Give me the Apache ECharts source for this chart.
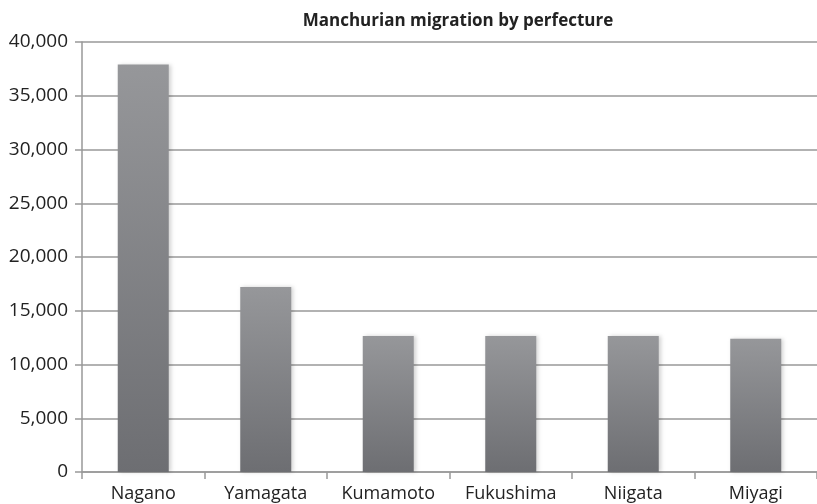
<!DOCTYPE html>
<html>
<head>
<meta charset="utf-8">
<script src="https://cdn.jsdelivr.net/npm/echarts@6/dist/echarts.min.js"></script>
<style>
  html, body { margin: 0; padding: 0; background: #fff; }
  #main { width: 817px; height: 504px; }
</style>
</head>
<body>
<div id="main"></div>
<script>
var prefectures = ['Nagano', 'Yamagata', 'Kumamoto', 'Fukushima', 'Niigata', 'Miyagi'];
var migrants = [37900, 17200, 12650, 12650, 12650, 12400];

var myChart = echarts.init(document.getElementById('main'));

var option = {
  animation: false,
  title: {
    text: 'Manchurian migration by perfecture',
    left: 453,
    textAlign: 'center',
    top: 8,
    textStyle: { fontFamily: 'Open Sans', fontSize: 17, fontWeight: 'bold', color: '#222' }
  },
  grid: { left: 82, top: 42, width: 742, bottom: 32 },
  xAxis: {
    type: 'category',
    data: prefectures,
    axisLine: { lineStyle: { color: '#999', width: 1.5 } },
    axisTick: { show: true, interval: 0, length: 7, lineStyle: { color: '#999', width: 1.5 } },
    axisLabel: { interval: 0, fontFamily: 'Open Sans', fontSize: 18, color: '#222', margin: 13 }
  },
  yAxis: {
    type: 'value',
    min: 0,
    max: 40000,
    interval: 5000,
    axisLine: { show: true, lineStyle: { color: '#999', width: 1.5 } },
    axisTick: { show: true, length: 7, lineStyle: { color: '#999', width: 1.5 } },
    splitLine: { lineStyle: { color: '#999', width: 1.5 } },
    axisLabel: {
      fontFamily: 'Open Sans', fontSize: 19, color: '#222', margin: 14,
      formatter: function (v) { return v.toLocaleString('en-US'); }
    }
  },
  series: [{
    type: 'bar',
    data: migrants,
    barWidth: 51,
    itemStyle: {
      color: new echarts.graphic.LinearGradient(0, 0, 0, 1, [
        { offset: 0, color: '#96979a' },
        { offset: 1, color: '#6d6e72' }
      ]),
      shadowBlur: 4,
      shadowOffsetX: 2,
      shadowColor: 'rgba(0,0,0,0.18)'
    }
  }]
};

myChart.setOption(option);
</script>
</body>
</html>
